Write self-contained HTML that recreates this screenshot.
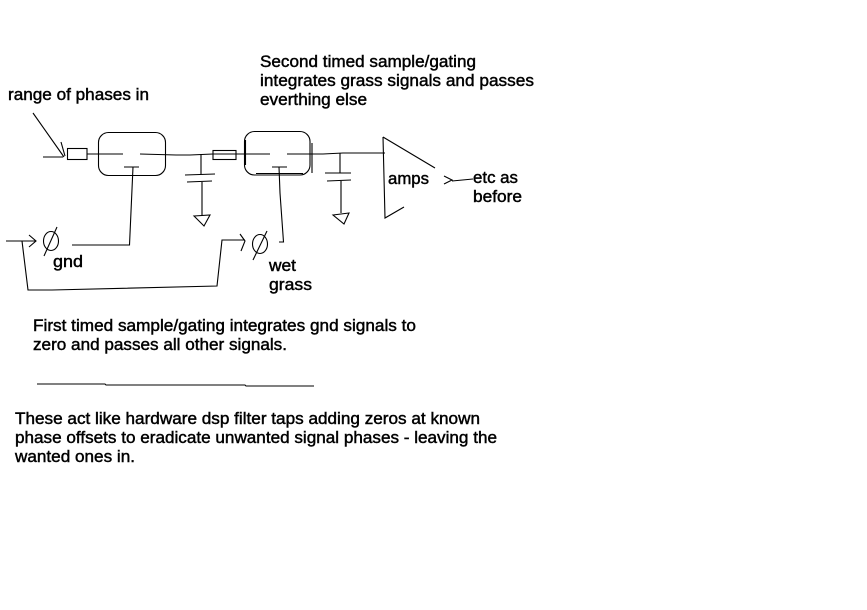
<!DOCTYPE html>
<html><head><meta charset="utf-8"><style>
html,body{margin:0;padding:0;background:#fff;width:867px;height:610px;overflow:hidden}
svg{display:block}
text{font-family:"Liberation Sans",sans-serif;font-size:16.500px;fill:#000;stroke:#000;stroke-width:.45px}
.l{fill:none;stroke:#000;stroke-width:1.100}
</style></head><body>
<svg width="867" height="610" viewBox="0 0 867 610">
<rect width="867" height="610" fill="#fff"/>
<g class="l">
<path class="l" d="M33 113L64 157M61 142L65 156M43 157H63"/>
<rect class="l" x="67.500" y="148.500" width="19.500" height="11"/>
<path class="l" d="M87 154H123M140 154L176 155H190L213 154"/>
<rect class="l" x="98.500" y="132.500" width="67" height="43" rx="10"/>
<path class="l" d="M124 167H139M133 167L129.500 245H72"/>
<path class="l" d="M201 154V174M185 175L215 174M187 182L212 181M202 181V215"/>
<path class="l" d="M194 216L210 215L204 226Z"/>
<rect class="l" x="213" y="150.500" width="23" height="9"/>
<path class="l" d="M213 154H270M287 154H323L343 153H385"/>
<rect class="l" x="244.500" y="131.500" width="65.500" height="43.500" rx="10"/>
<path class="l" d="M245.500 140V165M256 173.500H303M312 143V173"/>
<path class="l" d="M272 167H287M279 167L280 193L283.500 242H279"/>
<path class="l" d="M340 153V173M325 173H351M327 181L351 180M341 180V213"/>
<path class="l" d="M333 215L349 213L344 224Z"/>
<path class="l" d="M383 137L385 218L404 207M383 137L435 168"/>
<path class="l" d="M444 176L452 180L444 184M452 181L473 179"/>
<ellipse class="l" cx="51" cy="241" rx="7.500" ry="9.500"/>
<path class="l" d="M57 227L44 256"/>
<path class="l" d="M6 241H36M29 235L36 241L29 247"/>
<path class="l" d="M22 241L28 290H52L217 286L222 240H245M240 234L245 241L241 251"/>
<ellipse class="l" cx="260" cy="244" rx="7.500" ry="9.500"/>
<path class="l" d="M267 231L253 260"/>
<path class="l" d="M37 384H105L106 385H245L246 386H314"/>
</g>
<g>
<text x="260" y="67" textLength="216" lengthAdjust="spacingAndGlyphs">Second timed sample/gating</text>
<text x="260" y="86" textLength="274" lengthAdjust="spacingAndGlyphs">integrates grass signals and passes</text>
<text x="260" y="105" textLength="107" lengthAdjust="spacingAndGlyphs">everthing else</text>
<text x="8" y="100" textLength="141" lengthAdjust="spacingAndGlyphs">range of phases in</text>
<text x="388" y="184" textLength="41" lengthAdjust="spacingAndGlyphs">amps</text>
<text x="473" y="183" textLength="45" lengthAdjust="spacingAndGlyphs">etc as</text>
<text x="473" y="202" textLength="49" lengthAdjust="spacingAndGlyphs">before</text>
<text x="53" y="267" textLength="30" lengthAdjust="spacingAndGlyphs">gnd</text>
<text x="269" y="271" textLength="27" lengthAdjust="spacingAndGlyphs">wet</text>
<text x="269" y="290" textLength="43" lengthAdjust="spacingAndGlyphs">grass</text>
<text x="33" y="331" textLength="383" lengthAdjust="spacingAndGlyphs">First timed sample/gating integrates gnd signals to</text>
<text x="33" y="350" textLength="254" lengthAdjust="spacingAndGlyphs">zero and passes all other signals.</text>
<text x="15" y="424" textLength="465" lengthAdjust="spacingAndGlyphs">These act like hardware dsp filter taps adding zeros at known</text>
<text x="15" y="443" textLength="482" lengthAdjust="spacingAndGlyphs">phase offsets to eradicate unwanted signal phases - leaving the</text>
<text x="15" y="462" textLength="120" lengthAdjust="spacingAndGlyphs">wanted ones in.</text>
</g>
</svg>
</body></html>
